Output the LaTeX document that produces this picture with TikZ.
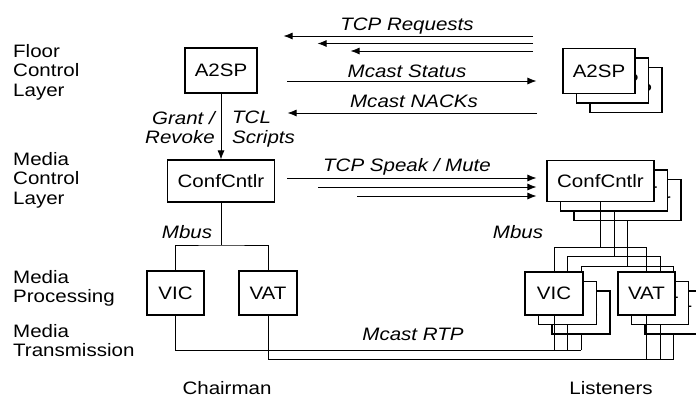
\documentclass[tikz,border=0pt]{standalone}
\usepackage{fontspec}
\setmainfont{Liberation Sans}[FakeStretch=1.14]
\usetikzlibrary{arrows.meta}

\newcommand\figsize{\fontsize{18}{19.5}\selectfont}

\tikzset{
  blk/.style={draw, line width=1.2pt, fill=white, inner sep=0pt, minimum height=44pt},
  lyr/.style={anchor=north west, align=left, inner sep=0pt},
  lbl/.style={font=\figsize\itshape, inner sep=0pt, anchor=base},
  wire/.style={line width=0.8pt},
}

\begin{document}
\begin{tikzpicture}[x=1pt, y=-1pt, >={Latex[length=9pt,width=7pt]}, font=\figsize]
\useasboundingbox (0,0) rectangle (696,399);
\clip (0,0) rectangle (696,399);

% layer names
\node[lyr] (floor) at (13,44) {Floor\\Control\\Layer};
\node[lyr] (mctl) at (13,152) {Media\\Control\\Layer};
\node[lyr] (mproc) at (13,270) {Media\\Processing};
\node[lyr] (mtx) at (13,324) {Media\\Transmission};

% chairman side
\node[blk, minimum width=72pt, minimum height=45pt] (a2sp) at (221,70.5) {A2SP};
\node[blk, minimum width=107pt, minimum height=42pt] (conf) at (221,181) {ConfCntlr};
\node[blk, minimum width=57pt] (vic) at (175.5,293) {VIC};
\node[blk, minimum width=58pt] (vat) at (268,293) {VAT};

\draw[wire,->] (a2sp) -- (conf);
\node[lbl, anchor=north east, align=right] (grant) at (215,111) {Grant /\\Revoke};
\node[lbl, anchor=north west, align=left] (tcl) at (232,111) {TCL\\Scripts};

\coordinate (cbus) at (221,245);
\draw[wire] (conf.south) -- (cbus);
\draw[wire] (vic.north) |- (cbus) -| (vat.north);
\node[lbl] (mbus) at (187,238) {Mbus};

% listeners: three stacked copies, back to front
\foreach \k in {2,1,0} {
  \begin{scope}[shift={(13.5*\k,9.5*\k)}]
    \node[blk, minimum width=72pt, minimum height=45pt] (la2sp\k) at (599,71) {A2SP};
  \end{scope}
}

\coordinate (rtpa) at (0,350);
\coordinate (rtpb) at (0,359);

\foreach \k in {2,1,0} {
  \begin{scope}[shift={(13.5*\k,9.5*\k)}]
    \node[blk, minimum width=107pt, minimum height=41pt] (lconf\k) at (600.5,181) {ConfCntlr};
    \node[blk, minimum width=58pt, minimum height=43pt] (lvic\k) at (554,293.5) {VIC};
    \node[blk, minimum width=57pt, minimum height=43pt] (lvat\k) at (646.5,293.5) {VAT};
    \coordinate (lbus\k) at (0,247);
    \draw[wire] (lconf\k.south) -- (lconf\k.south |- lbus\k);
    \draw[wire] (lvic\k.north) |- (lbus\k -| lvat\k.north) -- (lvat\k.north);
    \draw[wire] (lvic\k.south) -- (lvic\k.south |- rtpa);
    \draw[wire] (lvat\k.south) -- (lvat\k.south |- rtpb);
  \end{scope}
}
\node[lbl] (lmbus) at (518,238) {Mbus};

% multicast media
\draw[wire] (vic.south) |- (lvic2.south |- rtpa);
\draw[wire] (vat.south) |- (lvat2.south |- rtpb);
\node[lbl] (rtp) at (413,340) {Mcast RTP};

% floor control traffic
\coordinate (rq1) at (533,36);
\coordinate (rq2) at (533,43.5);
\coordinate (rq3) at (533,51);
\draw[wire,->, shorten >=26pt] (rq1) -- (rq1 -| a2sp.east);
\draw[wire,->, shorten >=60pt] (rq2) -- (rq2 -| a2sp.east);
\draw[wire,->, shorten >=93pt] (rq3) -- (rq3 -| a2sp.east);
\node[lbl] (req) at (407,30) {TCP Requests};

\coordinate (st) at (287,81);
\draw[wire,->, shorten >=26pt] (st) -- (st -| la2sp0.west);
\node[lbl] (status) at (407,77) {Mcast Status};

\coordinate (nk) at (537,113);
\draw[wire,->, shorten >=30pt] (nk) -- (nk -| a2sp.east);
\node[lbl] (nacks) at (414,107) {Mcast NACKs};

% speak / mute to every listener
\coordinate (sp1) at (287,178);
\coordinate (sp2) at (318,187);
\coordinate (sp3) at (357,196);
\foreach \i in {1,2,3}
  \draw[wire,->, shorten >=10pt] (sp\i) -- (sp\i -| lconf0.west);
\node[lbl] (speak) at (407,171) {TCP Speak / Mute};

\node[anchor=base] (chair) at (227,394) {Chairman};
\node[anchor=base] (lis) at (611,394) {Listeners};
\end{tikzpicture}
\end{document}
